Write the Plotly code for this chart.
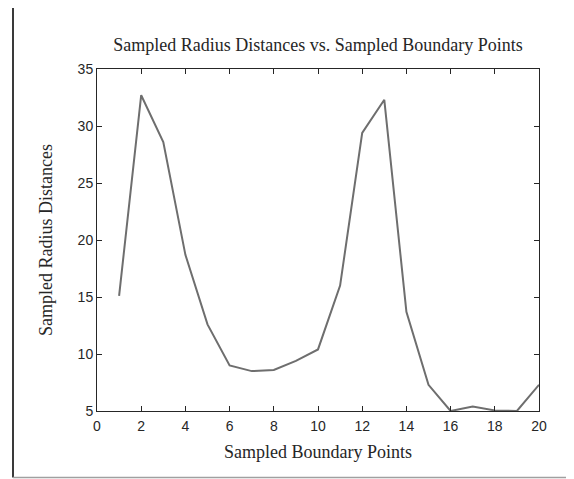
import plotly.graph_objects as go

# sampled boundary points and radius distances
points = list(range(1, 21))
radius = [15.1, 32.7, 28.6, 18.7, 12.6, 9.0, 8.5, 8.6, 9.4, 10.4,
          16.0, 29.4, 32.3, 13.7, 7.3, 5.0, 5.4, 5.05, 5.0, 7.3]

W, H = 574, 479
D = 8  # page body margin offsets the figure by 8px
L, R, T, B = 97 - D, 35 + D, 69 - D, 68 + D
pw, ph = W - L - R, H - T - B

serif = "Liberation Serif, Times New Roman, serif"
sans = "Liberation Sans, Arial, sans-serif"

fig = go.Figure(go.Scatter(x=points, y=radius, mode="lines",
                           line=dict(color="#6e6e6e", width=2)))

axis_common = dict(showgrid=False, zeroline=False, showline=True, mirror="ticks",
                   linecolor="#262626", linewidth=1, ticks="inside", ticklen=5,
                   tickcolor="#262626", tickfont=dict(family=sans, size=14, color="#262626"))

fig.update_xaxes(range=[0, 20], tick0=0, dtick=2, ticklabelstandoff=2,
                 title=dict(text="Sampled Boundary Points", font=dict(family=serif, size=18, color="#262626"),
                            standoff=12),
                 **axis_common)
fig.update_yaxes(range=[5, 35], tick0=5, dtick=5,
                 title=dict(text="Sampled Radius Distances", font=dict(family=serif, size=18, color="#262626"),
                            standoff=20),
                 **axis_common)

# outer frame around the figure (left, top, bottom edges), in screen px minus offset
def px_x(x):
    return (x - D - L) / pw

def px_y(y):
    return (H - B - (y - D)) / ph

fig.add_shape(type="line", xref="paper", yref="paper", x0=px_x(13), x1=px_x(13), y0=px_y(477.5), y1=px_y(0.5),
              line=dict(color="#3a3a3a", width=2))
fig.add_shape(type="line", xref="paper", yref="paper", x0=px_x(13), x1=px_x(580), y0=px_y(0.5), y1=px_y(0.5),
              line=dict(color="#3a3a3a", width=2))
fig.add_shape(type="line", xref="paper", yref="paper", x0=px_x(13), x1=px_x(580), y0=px_y(477.5), y1=px_y(477.5),
              line=dict(color="#a0a0a0", width=1.5))

fig.update_layout(
    width=W, height=H,
    margin=dict(l=L, r=R, t=T, b=B),
    paper_bgcolor="white", plot_bgcolor="white",
    showlegend=False,
    title=dict(text="Sampled Radius Distances vs. Sampled Boundary Points",
               font=dict(family=serif, size=18, color="#262626"),
               x=(L + pw / 2) / W, xanchor="center", y=1 - (45 - D) / H, yanchor="middle"),
)

fig.write_html("out.html")
